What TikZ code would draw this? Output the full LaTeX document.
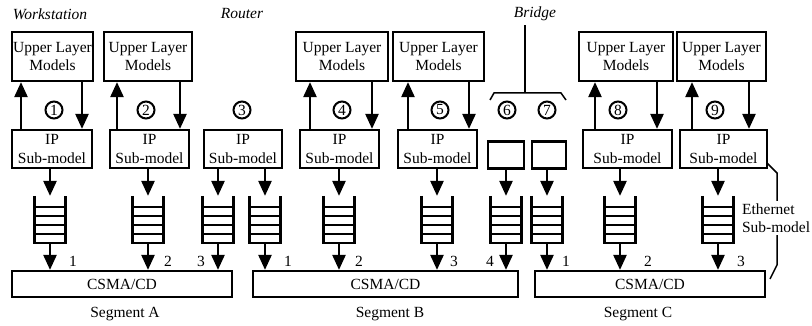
\documentclass[tikz,border=0pt]{standalone}
\usepackage{fontspec}
\setmainfont{Liberation Serif}
\usetikzlibrary{arrows.meta,calc}
\newcommand\figfont{\fontsize{15.5}{18.5}\selectfont}

\begin{document}
\begin{tikzpicture}[x=1pt,y=-1pt,font=\figfont,line width=2.2pt,
        every node/.style={inner sep=0pt},
        model/.style={draw,align=center},
        disc/.style={draw,circle,line width=2pt,minimum size=17pt},
        arr/.style={-{Triangle[width=13pt,length=15pt]},line width=2.4pt},
        rung/.style={line width=1.8pt},
        brace/.style={line width=1.5pt}]
    \useasboundingbox (0,0) rectangle (812,326);
    %% titles
    \node[font=\figfont\itshape] (ws) at (50,14) {Workstation};
    \node[font=\figfont\itshape] (router) at (242,14) {Router};
    \node[font=\figfont\itshape] (bridge) at (535,14) {Bridge};
    %% hosts: upper layer models and IP sub-models
    \foreach \n/\ux/\uw/\ix/\iw/\up/\dn in {1/52.5/81/52/80/21/82, 2/148/88/149.5/79/117/180,
            4/342/92/339.5/79/310/372, 5/438.5/91/437.5/79/408/469,
            8/626/94/627.5/89/595/657, 9/721.5/89/723.5/87/692/749}{
        \node[model,minimum width=\uw,minimum height=49] (u\n) at (\ux,56.5) {Upper Layer\\Models};
        \node[model,minimum width=\iw,minimum height=38] (ip\n) at (\ix,149) {IP\\Sub-model};
        \coordinate (a\n) at (\up,0);
        \coordinate (b\n) at (\dn,0);
        \draw[arr] (ip\n.north -| a\n) -- (u\n.south -| a\n);
        \draw[arr] (u\n.south -| b\n) -- (ip\n.north -| b\n);
    }
    %% router and bridge
    \node[model,minimum width=78,minimum height=38] (ip3) at (243,149) {IP\\Sub-model};
    \node[model,minimum width=36,minimum height=27] (br6) at (506,155) {};
    \node[model,minimum width=34,minimum height=27] (br7) at (549,155) {};
    \coordinate (brk) at (525,93);
    \draw[brace] (490,100) -- (494,93) -- (561,93) -- (566,100);
    \draw[brace] (bridge.south -| brk) ++(0,3) -- (brk);
    %% numbered stations
    \foreach \n/\x in {1/54,2/146,3/242,4/342,5/440,6/507,7/547,8/618,9/715}
        \node[disc] (c\n) at (\x,110) {\n};
    %% segments
    \node[model,minimum width=220,minimum height=26] (sA) at (122,284) {CSMA/CD};
    \node[model,minimum width=265,minimum height=26] (sB) at (385.5,284) {CSMA/CD};
    \node[model,minimum width=230,minimum height=26] (sC) at (650,284) {CSMA/CD};
    \node (segA) at (125,314) {Segment A};
    \node (segB) at (390,314) {Segment B};
    \node (segC) at (638,314) {Segment C};
    %% queues
    \foreach \q/\x/\s in {q1/50/ip1,q2/148/ip2,q3a/218/ip3,q3b/265/ip3,q4/339/ip4,
            q5/437/ip5,q6/506/br6,q7/547/br7,q8/620/ip8,q9/718/ip9}{
        \node[minimum width=29,minimum height=45] (\q) at (\x,219.5) {};
        \draw[line width=2.6pt] (\q.north west) -- (\q.south west) -- (\q.south east) -- (\q.north east);
        \foreach \f in {0.23,0.42,0.61,0.8}
            \draw[rung] ($(\q.north west)!\f!(\q.south west)$) -- ($(\q.north east)!\f!(\q.south east)$);
        \draw[arr] (\s.south -| \q) -- (\q.north);
    }
    %% ports
    \foreach \q/\s/\t/\dx/\a [count=\k] in {q1/sA/1/18/west, q2/sA/2/15/west, q3a/sA/3/-12/east,
            q3b/sB/1/18/west, q4/sB/2/15/west, q5/sB/3/12/west, q6/sB/4/-11/east,
            q7/sC/1/14/west, q8/sC/2/23/west, q9/sC/3/18/west}{
        \draw[arr] (\q.south) -- (\s.north -| \q);
        \path (\s.north -| \q) ++(\dx,-3) node[anchor=base \a] (n\k) {\t};
    }
    %% ethernet sub-model
    \draw[brace] (767,163) -- (777,173) -- (777,265) -- (770,279);
    \node[fill=white,inner sep=2pt,align=left,anchor=west] (eth) at (739,218) {Ethernet\\Sub-model};
\end{tikzpicture}
\end{document}
